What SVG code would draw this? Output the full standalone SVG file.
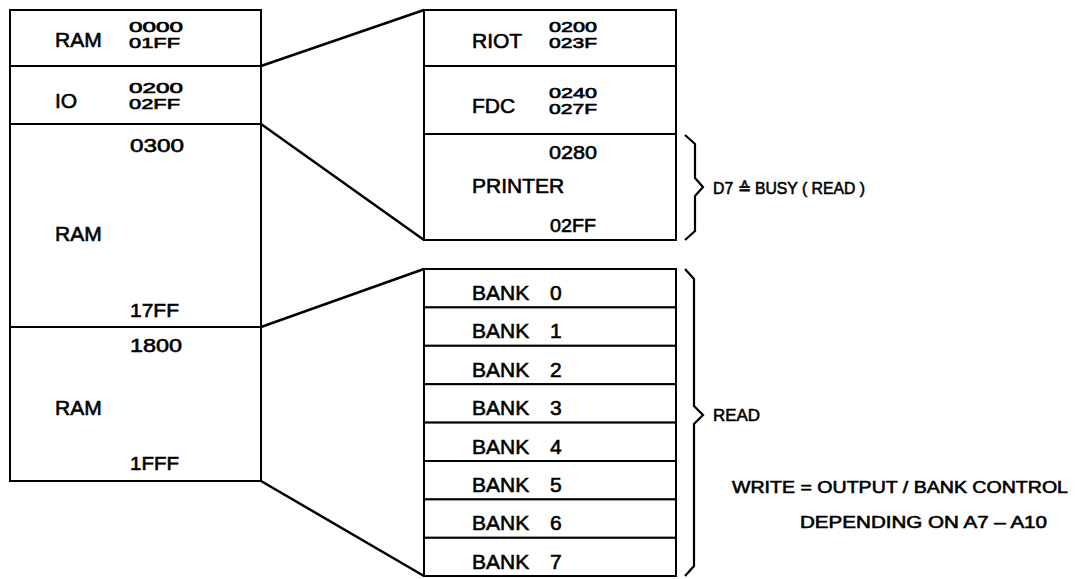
<svg xmlns="http://www.w3.org/2000/svg" width="1081" height="579" viewBox="0 0 1081 579">
<style>
  .box { fill: #fff; stroke: #000; stroke-width: 2; }
  .con { fill: none; stroke: #000; stroke-width: 2.5; stroke-linejoin: miter; }
  .brace { fill: none; stroke: #000; stroke-width: 2.2; }
  text { font-family: "Liberation Sans", Arial, sans-serif; fill: #000; stroke: #000; stroke-width: 0.6; }
  .lbl { font-size: 21px; }
  .ad2 { font-size: 14.3px; }
  .ad1 { font-size: 19px; }
  .note { font-size: 17px; }
</style>
<rect x="0" y="0" width="1081" height="579" fill="#fff"/>

<g id="connectors">
  <line class="con" x1="261" y1="66" x2="424" y2="10"/>
  <line class="con" x1="261" y1="124" x2="424" y2="240"/>
  <line class="con" x1="261" y1="327" x2="424" y2="269"/>
  <line class="con" x1="261" y1="481" x2="424" y2="576"/>
</g>

<g id="ram-0000">
  <rect class="box" x="10" y="10" width="251" height="56"/>
  <text class="lbl" x="55" y="47">RAM</text>
  <text class="ad2" x="129" y="32" textLength="54" lengthAdjust="spacingAndGlyphs">0000</text>
  <text class="ad2" x="129" y="48" textLength="51" lengthAdjust="spacingAndGlyphs">01FF</text>
</g>
<g id="io">
  <rect class="box" x="10" y="66" width="251" height="58"/>
  <text class="lbl" x="55" y="108">IO</text>
  <text class="ad2" x="129" y="93" textLength="54" lengthAdjust="spacingAndGlyphs">0200</text>
  <text class="ad2" x="129" y="109" textLength="51" lengthAdjust="spacingAndGlyphs">02FF</text>
</g>
<g id="ram-0300">
  <rect class="box" x="10" y="124" width="251" height="203"/>
  <text class="ad1" x="130" y="152" textLength="54" lengthAdjust="spacingAndGlyphs">0300</text>
  <text class="lbl" x="55" y="241">RAM</text>
  <text class="ad1" x="130" y="317" textLength="49" lengthAdjust="spacingAndGlyphs">17FF</text>
</g>
<g id="ram-1800">
  <rect class="box" x="10" y="327" width="251" height="154"/>
  <text class="ad1" x="130" y="352" textLength="52" lengthAdjust="spacingAndGlyphs">1800</text>
  <text class="lbl" x="55" y="415">RAM</text>
  <text class="ad1" x="130" y="470" textLength="49" lengthAdjust="spacingAndGlyphs">1FFF</text>
</g>

<g id="riot">
  <rect class="box" x="424" y="10" width="252" height="56"/>
  <text class="lbl" x="472" y="48">RIOT</text>
  <text class="ad2" x="549" y="32" textLength="48" lengthAdjust="spacingAndGlyphs">0200</text>
  <text class="ad2" x="549" y="48" textLength="48" lengthAdjust="spacingAndGlyphs">023F</text>
</g>
<g id="fdc">
  <rect class="box" x="424" y="66" width="252" height="68"/>
  <text class="lbl" x="472" y="113">FDC</text>
  <text class="ad2" x="549" y="98" textLength="48" lengthAdjust="spacingAndGlyphs">0240</text>
  <text class="ad2" x="549" y="114" textLength="48" lengthAdjust="spacingAndGlyphs">027F</text>
</g>
<g id="printer">
  <rect class="box" x="424" y="134" width="252" height="106"/>
  <text class="ad1" x="549" y="159" textLength="48" lengthAdjust="spacingAndGlyphs">0280</text>
  <text class="lbl" x="472" y="193">PRINTER</text>
  <text class="ad1" x="550" y="232" textLength="46" lengthAdjust="spacingAndGlyphs">02FF</text>
</g>

<g id="bank-0"><rect class="box" x="424" y="269" width="252" height="38.4"/><text class="lbl" x="472" y="300">BANK<tspan x="550">0</tspan></text></g>
<g id="bank-1"><rect class="box" x="424" y="307.4" width="252" height="38.4"/><text class="lbl" x="472" y="338.4">BANK<tspan x="550">1</tspan></text></g>
<g id="bank-2"><rect class="box" x="424" y="345.8" width="252" height="38.4"/><text class="lbl" x="472" y="376.8">BANK<tspan x="550">2</tspan></text></g>
<g id="bank-3"><rect class="box" x="424" y="384.2" width="252" height="38.4"/><text class="lbl" x="472" y="415.2">BANK<tspan x="550">3</tspan></text></g>
<g id="bank-4"><rect class="box" x="424" y="422.6" width="252" height="38.4"/><text class="lbl" x="472" y="453.6">BANK<tspan x="550">4</tspan></text></g>
<g id="bank-5"><rect class="box" x="424" y="461" width="252" height="38.4"/><text class="lbl" x="472" y="492">BANK<tspan x="550">5</tspan></text></g>
<g id="bank-6"><rect class="box" x="424" y="499.4" width="252" height="38.4"/><text class="lbl" x="472" y="530.4">BANK<tspan x="550">6</tspan></text></g>
<g id="bank-7"><rect class="box" x="424" y="537.8" width="252" height="38.2"/><text class="lbl" x="472" y="568.8">BANK<tspan x="550">7</tspan></text></g>

<g id="printer-note">
  <path class="brace" d="M685,135 L695,144 L695,178 L703,187 L695,196 L695,231 L685,240"/>
  <text class="note" x="713" y="194" textLength="152" lengthAdjust="spacingAndGlyphs">D7 ≙ BUSY ( READ )</text>
</g>
<g id="bank-note">
  <path class="brace" d="M685,269 L694,279 L694,406 L703,415 L694,424 L694,566 L685,576"/>
  <text class="note" x="713" y="421" textLength="47" lengthAdjust="spacingAndGlyphs">READ</text>
  <text class="note" x="732" y="493" textLength="336" lengthAdjust="spacingAndGlyphs">WRITE = OUTPUT / BANK  CONTROL</text>
  <text class="note" x="800" y="528" textLength="247" lengthAdjust="spacingAndGlyphs">DEPENDING ON  A7 – A10</text>
</g>
</svg>
